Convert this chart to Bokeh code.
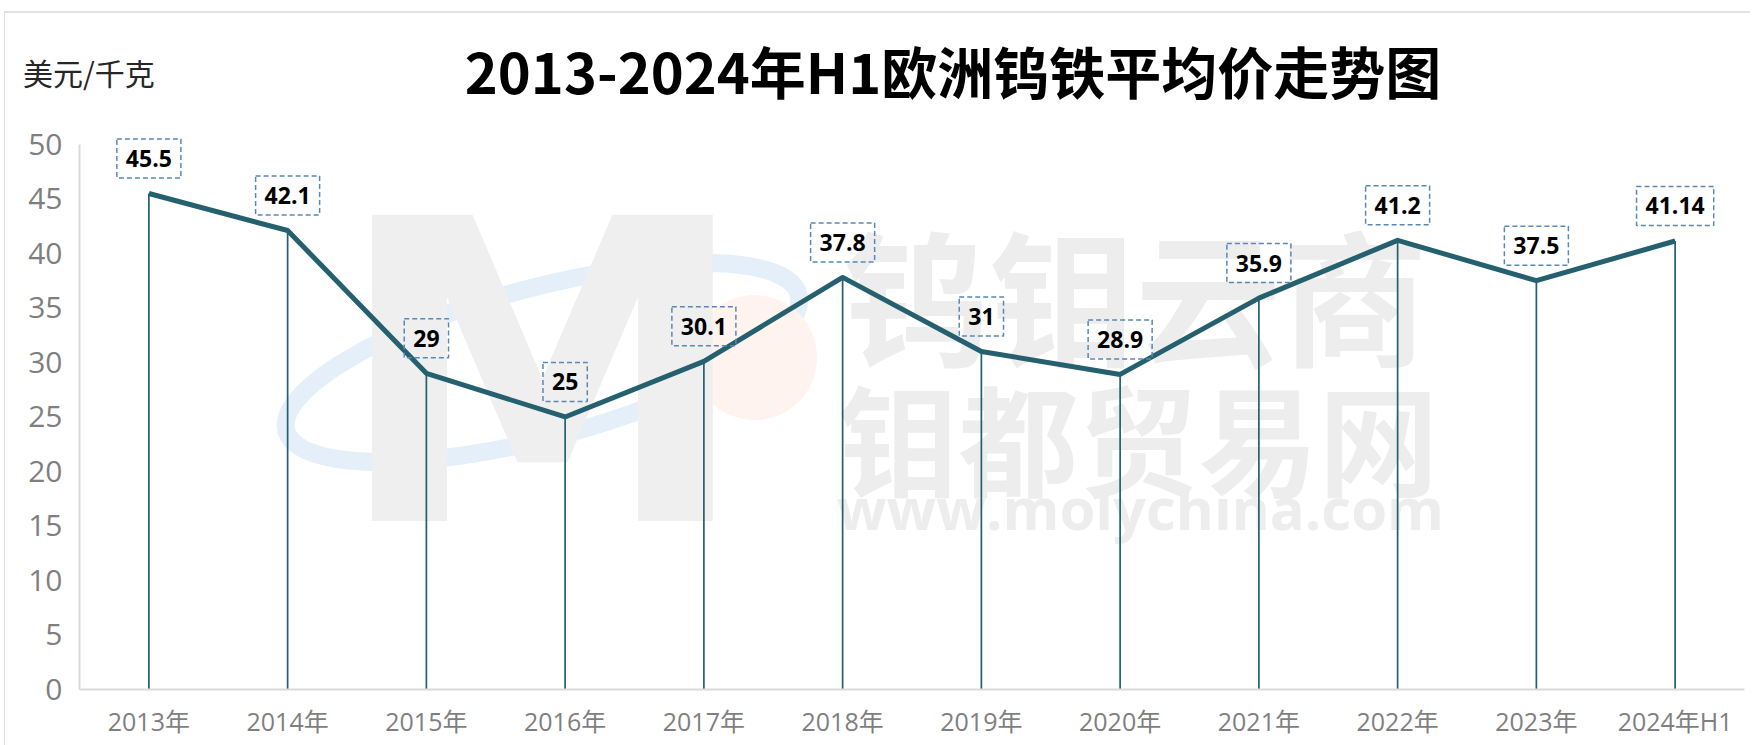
from bokeh.plotting import figure
from bokeh.layouts import column
from bokeh.models import FactorRange, Range1d, FixedTicker, Label, ColumnDataSource, Div
from bokeh.embed import file_html
from bokeh.resources import INLINE

# ---- data ----
years = ["2013年", "2014年", "2015年", "2016年", "2017年", "2018年",
         "2019年", "2020年", "2021年", "2022年", "2023年", "2024年H1"]
prices = [45.5, 42.1, 29, 25, 30.1, 37.8, 31, 28.9, 35.9, 41.2, 37.5, 41.14]
price_labels = ["45.5", "42.1", "29", "25", "30.1", "37.8", "31", "28.9",
                "35.9", "41.2", "37.5", "41.14"]
y_ticks = [0, 5, 10, 15, 20, 25, 30, 35, 40, 45, 50]
title_text = "2013-2024年H1欧洲钨铁平均价走势图"
unit_text = "美元/千克"
wm_logo = "M"
wm_line1 = "钨钼云商"
wm_line2 = "钼都贸易网"
wm_line3 = "www.molychina.com"

# ---- layout ----
W = 1745
HEAD_H = 92
H = 745 - 8 - HEAD_H
Y_MAX = 51  # small headroom so the top data label box is not clipped
BL, BR, BT, BB = 79, 1, 31, 58
FIG_TOP = 8 + HEAD_H
LINE = "#25606E"
FRAME_C = "#e2e2e2"
CJK = "'Noto Sans CJK SC'"
LAT = "'Open Sans', 'Noto Sans CJK SC'"

header = Div(width=W, height=HEAD_H, text=f"""
<div style="position:relative;width:{W}px;height:{HEAD_H}px;overflow:visible;">
  <div style="position:absolute;left:-1px;top:6px;width:{W + 1}px;height:2px;background:{FRAME_C};"></div>
  <div style="position:absolute;left:-1px;top:6px;width:1px;height:760px;background:{FRAME_C};z-index:5;"></div>
  <span style="position:absolute;left:948px;top:65px;transform:translate(-50%,-50%);white-space:nowrap;
     font-family:'Noto Sans CJK SC';font-weight:bold;font-size:56px;line-height:1;color:#000;">{title_text}</span>
  <span style="position:absolute;left:18px;top:67px;transform:translateY(-50%);white-space:nowrap;
     font-family:'Noto Sans CJK SC';font-size:30px;line-height:1;color:#262626;">{unit_text}</span>
</div>""", styles={"overflow": "visible", "z-index": "5"})

p = figure(x_range=FactorRange(factors=years), y_range=Range1d(0, Y_MAX),
           width=W, height=H, output_backend="svg", toolbar_location=None,
           min_border_left=BL, min_border_right=BR, min_border_top=BT,
           min_border_bottom=BB)
p.outline_line_color = None
p.xgrid.grid_line_color = None
p.ygrid.grid_line_color = None
p.background_fill_color = "white"
p.border_fill_color = "white"

# helpers: convert page pixel positions (watermark decoration only) to data coords
FW = W - BL - BR
FH = H - BT - BB
def px(page_x):
    return (page_x - 8 - BL) / FW * len(years)
def py(page_y):
    return (FIG_TOP + BT + FH - page_y) / FH * Y_MAX

# ---- watermark ----
wm_color = "#ededed"
p.ellipse(x=[px(550)], y=[py(360)], width=530, height=150, angle=0.26,
          width_units="screen", height_units="screen", fill_color=None,
          line_color="#e5effa", line_width=18, level="underlay")
p.scatter(x=[px(762)], y=[py(355)], size=125, marker="circle",
          fill_color="#fef3ee", line_color=None, level="underlay")
p.add_layout(Label(x=px(550), y=py(373), text=wm_logo, text_align="center",
                   text_baseline="middle", text_font="'DejaVu Sans'",
                   text_font_style="bold", text_font_size="420px",
                   text_color="#efefef", level="underlay"))
p.add_layout(Label(x=px(1143), y=py(289), text=wm_line1, text_align="center",
                   text_baseline="middle", text_font=CJK, text_font_style="bold",
                   text_font_size="146px", text_color=wm_color, level="underlay"))
p.add_layout(Label(x=px(1146), y=py(433), text=wm_line2, text_align="center",
                   text_baseline="middle", text_font=CJK, text_font_style="bold",
                   text_font_size="120px", text_color=wm_color, level="underlay"))
p.add_layout(Label(x=px(1148), y=py(505), text=wm_line3, text_align="center",
                   text_baseline="middle", text_font="'Open Sans'",
                   text_font_style="bold", text_font_size="58px",
                   text_color=wm_color, level="underlay"))

# ---- data marks ----
src = ColumnDataSource(dict(year=years, price=prices, zero=[0] * len(years)))
p.segment(x0="year", y0="zero", x1="year", y1="price", source=src,
          line_color=LINE, line_width=1.7)
p.line(x="year", y="price", source=src, line_color=LINE, line_width=5,
       line_join="round")

for i, (v, t) in enumerate(zip(prices, price_labels)):
    p.add_layout(Label(x=i + 0.5, y=v, y_offset=35, text=t,
                       text_align="center", text_baseline="middle",
                       text_font="'Open Sans'", text_font_style="bold",
                       text_font_size="23px", text_color="black",
                       padding=dict(left=9, right=9, top=11, bottom=11),
                       border_line_color="#5b87b8",
                       border_line_dash="5 3", border_line_width=1.5,
                       background_fill_color=None))

# ---- axes ----
p.yaxis.ticker = FixedTicker(ticks=y_ticks)
p.yaxis.bounds = (y_ticks[0], y_ticks[-1])
for ax in (p.xaxis[0], p.yaxis[0]):
    ax.axis_line_color = "#d9d9d9"
    ax.axis_line_width = 2
    ax.major_tick_line_color = None
    ax.minor_tick_line_color = None
    ax.major_label_text_color = "#7f7f7f"
    ax.major_label_text_font = LAT
p.yaxis.major_label_text_font_size = "30px"
p.yaxis.major_label_standoff = 11
p.xaxis.major_label_text_font_size = "25px"
p.xaxis.major_label_standoff = 8

layout = column(header, p)
open("out.html", "w").write(file_html(layout, INLINE))
